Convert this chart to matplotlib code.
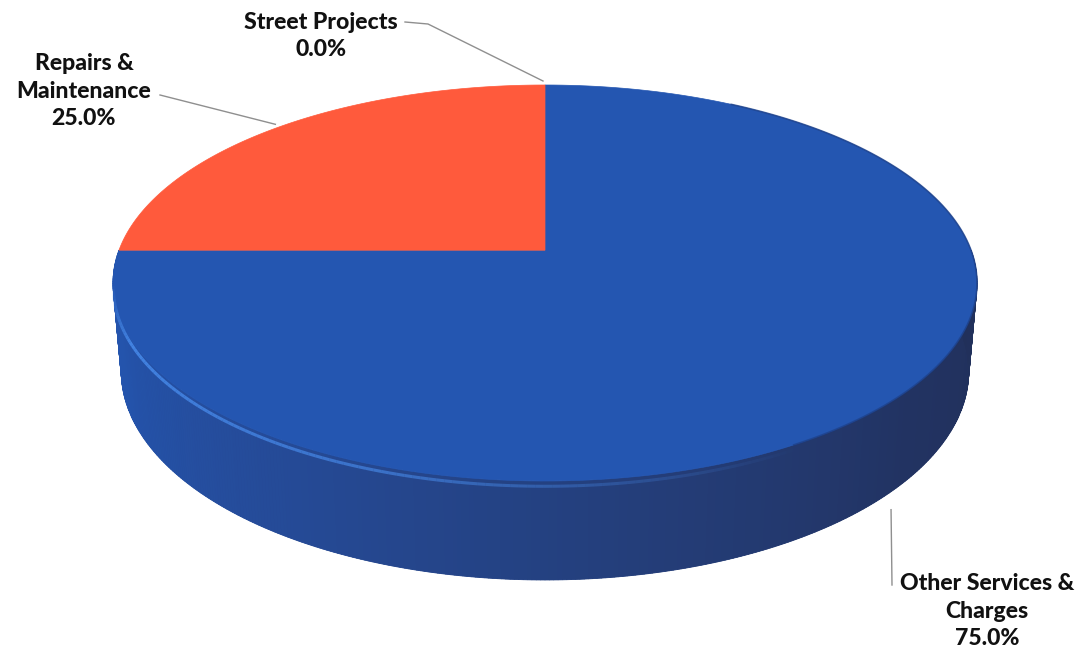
import numpy as np
import matplotlib.pyplot as plt
from matplotlib.patches import Polygon

# slices, in drawing order clockwise from 12 o'clock
labels = ['Street Projects', 'Other Services &\nCharges', 'Repairs &\nMaintenance']
shares = [0.0, 75.0, 25.0]
colors = ['#8c8c8c', '#2456b1', '#ff5a3c']

# camera / disc settings
elev = np.radians(26.5)
dist = 5.4
thick = 0.23


def project(X, Y, Z):
    c, s = np.cos(elev), np.sin(elev)
    dep = Y * c - Z * s + dist
    return X / dep, (Y * s + Z * c) / dep


# fit the top rim into the pixel box of the pie
ring = np.linspace(0, 2 * np.pi, 721)
rx, ry = project(np.cos(ring), np.sin(ring), 0 * ring)
box_x = (113, 977)
box_y = (85, 481)
kx = (box_x[1] - box_x[0]) / (rx.max() - rx.min())
ky = (box_y[1] - box_y[0]) / (ry.max() - ry.min())


def to_px(X, Y, Z):
    sx, sy = project(np.asarray(X, float), np.asarray(Y, float), np.asarray(Z, float))
    return box_x[0] + (sx - rx.min()) * kx, box_y[0] + (ry.max() - sy) * ky


def rim(phi, z):
    return to_px(np.cos(phi), np.sin(phi), np.full_like(phi, z))


fig = plt.figure(figsize=(10.86, 6.59), dpi=100)
ax = fig.add_axes([0, 0, 1, 1])
ax.set_xlim(0, 1086)
ax.set_ylim(659, 0)
ax.axis('off')

# side wall of the near half, shaded from left to right
wall_stops = np.radians([180, 200, 240, 280, 320, 360])
wall_rgb = np.array([[36, 86, 176], [36, 84, 172], [37, 74, 150],
                     [36, 62, 122], [34, 51, 98], [33, 48, 90]]) / 255
phi = np.radians(np.linspace(180, 360, 361))
tx, ty = rim(phi, 0)
bx, by = rim(phi, -thick)
ax.add_patch(Polygon(np.c_[np.r_[tx, bx[::-1]], np.r_[ty, by[::-1]]],
                     closed=True, fc=wall_rgb[2], ec='none'))
for i in range(len(phi) - 1):
    m = 0.5 * (phi[i] + phi[i + 1])
    col = [np.interp(m, wall_stops, wall_rgb[:, k]) for k in range(3)]
    quad = [(tx[i], ty[i]), (tx[i + 1], ty[i + 1]),
            (bx[i + 1], by[i + 1]), (bx[i], by[i])]
    ax.add_patch(Polygon(quad, closed=True, fc=col, ec=col, lw=0.6))

# top faces
start = np.pi / 2
mids = []
for share, col in zip(shares, colors):
    span = share / 100 * 2 * np.pi
    mids.append(start - span / 2)
    if span > 0:
        a = np.linspace(start, start - span, 200)
        px, py = rim(a, 0)
        cx, cy = to_px(0, 0, 0)
        ax.add_patch(Polygon(np.c_[np.r_[cx, px], np.r_[cy, py]], closed=True,
                             fc=col, ec=col, lw=0.5))
    start -= span

# soft highlight along the rounded front edge
hl = np.radians(np.linspace(188, 300, 120))
hx, hy = rim(hl, -0.012)
alpha = np.interp(hl, np.radians([188, 205, 250, 300]), [0.0, 0.8, 0.6, 0.0])
for i in range(len(hl) - 1):
    ax.plot(hx[i:i + 2], hy[i:i + 2], color='#4a8ff0', lw=2.2,
            alpha=alpha[i], solid_capstyle='butt')

# darker outline along the right part of the top rim
dk = np.radians(np.linspace(-60, 60, 100))
ex, ey = rim(dk, 0)
ax.plot(ex, ey, color='#1d3f86', lw=1.2, alpha=0.7)

# labels with leader lines
font = dict(family=['Lato', 'DejaVu Sans'], fontweight='black', fontsize=16.6,
            color='#111111', ha='center', va='center', linespacing=1.38)
lead = dict(color='#8f8f8f', lw=1.0)

ax.text(321, 36, labels[0] + '\n' + f'{shares[0]:.1f}%', **font)
sx, sy = rim(np.array([mids[0]]), 0)
ax.plot([405, 428, sx[0] - 2], [22, 24, sy[0] - 4], **lead)

ax.text(987, 611, labels[1] + '\n' + f'{shares[1]:.1f}%', **font)
ox, oy = rim(np.array([mids[1]]), -thick)
ax.plot([ox[0] + 12, 892], [oy[0] + 10, 585], **lead)

ax.text(84, 91, labels[2] + '\n' + f'{shares[2]:.1f}%', **font)
qx, qy = rim(np.array([mids[2]]), 0)
ax.plot([160, qx[0]], [95, qy[0] - 4], **lead)

fig.savefig('out.png', dpi=100, facecolor='white')
